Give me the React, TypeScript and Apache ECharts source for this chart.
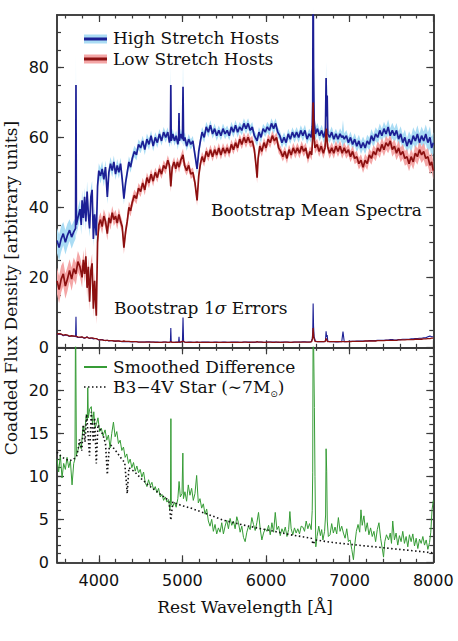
import React, { useEffect, useRef } from 'react';
import * as echarts from 'echarts';

// [wavelength, mean flux, bootstrap 1-sigma error]
const hiSpec: number[][] = [
  [3500,30.5,3.6],[3525,28.5,3.8],[3550,31,3.7],[3575,32.5,3.3],[3600,30,3.5],[3625,32,3.4],[3650,33.5,3.1],[3675,31.5,3.3],
  [3700,33,3.2],[3722,34,3.0],[3727,75,8.7],[3732,35,3.0],[3750,37,2.8],[3775,39.5,2.8],[3790,35,2.9],[3800,42,2.9],[3815,37,2.7],
  [3830,43,2.6],[3845,36,2.8],[3860,44.5,3.0],[3875,38,2.7],[3890,34,2.5],[3905,43,2.6],[3920,45,2.6],[3935,31,2.4],[3950,38,2.5],
  [3970,32,2.5],[3985,46,2.3],[4000,50.5,2.1],[4020,49,2.2],[4040,51,2.2],[4060,48,2.0],[4080,51.5,1.9],[4102,43,2.0],[4120,50,1.8],
  [4140,52.5,1.9],[4160,50.5,1.9],[4180,53,1.8],[4200,49.5,1.7],[4220,52,1.8],[4240,50,1.8],[4260,52.5,1.7],[4280,48,1.6],[4300,42.5,1.7],
  [4320,47,1.6],[4340,50,1.6],[4360,53,1.6],[4380,51.5,1.6],[4400,54,1.5],[4425,56,1.6],[4450,55,1.6],[4475,58,1.5],[4500,57,1.5],
  [4525,59,1.5],[4550,56.5,1.5],[4575,59.5,1.6],[4600,58,1.6],[4625,60.5,1.5],[4650,57.5,1.5],[4675,60,1.5],[4700,58.5,1.5],[4725,61,1.4],
  [4750,59,1.4],[4775,61.5,1.5],[4800,60,1.5],[4825,61.5,1.4],[4845,58.5,1.4],[4856,60,1.6],[4861,75,5.5],[4866,59,1.5],[4885,61,1.4],
  [4905,59,1.4],[4925,60.5,1.5],[4945,58,1.5],[4954,59.5,1.5],[4959,67,3.0],[4964,59,1.4],[4980,61,1.5],[5000,59.5,1.6],[5007,74.5,8.5],
  [5014,59,1.6],[5030,60,1.5],[5050,57.5,1.4],[5075,59.5,1.5],[5100,58,1.5],[5125,59,1.4],[5150,55,1.4],[5175,51,1.5],[5195,56,1.4],
  [5215,59,1.4],[5235,61.5,1.5],[5260,60,1.5],[5285,63,1.5],[5310,61.5,1.5],[5335,63.5,1.4],[5360,61,1.4],[5385,62.5,1.5],[5410,60.5,1.5],
  [5435,62,1.4],[5460,60.5,1.4],[5485,62.5,1.5],[5510,61,1.5],[5535,62,1.4],[5560,60.5,1.4],[5585,63,1.5],[5610,61.5,1.5],[5635,63.5,1.5],
  [5660,61.5,1.5],[5685,63,1.4],[5710,62,1.4],[5735,64,1.5],[5760,62.5,1.5],[5785,64,1.5],[5810,62,1.5],[5835,63,1.4],[5860,60.5,1.4],
  [5893,59,1.5],[5915,61.5,1.5],[5940,60,1.5],[5965,62.5,1.4],[5990,61.5,1.4],[6015,63,1.5],[6040,62,1.5],[6065,64,1.5],[6090,62.5,1.5],
  [6115,64,1.5],[6140,61.5,1.4],[6165,60.5,1.4],[6190,58.5,1.5],[6215,60,1.5],[6240,58.5,1.5],[6265,61,1.5],[6290,59.5,1.4],[6315,61.5,1.4],
  [6340,60,1.5],[6365,61.5,1.5],[6390,60,1.5],[6415,62,1.5],[6440,60.5,1.6],[6465,62,1.6],[6490,59.5,1.5],[6515,61,1.5],[6540,60,1.6],
  [6552,63,2.4],[6558,70,4.0],[6563,110,12.5],[6568,80,6.0],[6575,65,3.0],[6590,61,1.8],[6615,62.5,1.6],[6640,60.5,1.6],[6665,62,1.6],
  [6690,60,1.6],[6710,62,1.8],[6718,77,4.6],[6724,66,3.0],[6731,72,3.5],[6738,61,1.8],[6760,60,1.6],[6785,61.5,1.6],[6810,59.5,1.6],
  [6835,61,1.5],[6860,59.5,1.5],[6885,61,1.6],[6905,60,1.6],[6920,60.5,4.5],[6935,59.5,1.6],[6960,60.5,1.6],[6985,58.5,1.7],[7010,60,1.7],
  [7035,58,1.7],[7060,59.5,1.7],[7085,57.5,1.8],[7110,59,1.8],[7135,57,1.8],[7160,58.5,1.8],[7185,57,1.8],[7210,59,1.8],[7235,58,1.9],
  [7260,60.5,1.9],[7285,59,1.9],[7310,61,1.9],[7335,60,2.0],[7360,62,2.0],[7385,60.5,2.0],[7410,62.5,2.0],[7435,61,2.1],[7460,63,2.1],
  [7485,60.5,2.2],[7510,62,2.2],[7535,60.5,2.1],[7560,62,2.1],[7585,59.5,2.2],[7610,61,2.2],[7635,58.5,2.3],[7660,60,2.3],[7685,57.5,2.3],
  [7710,59.5,2.3],[7735,58,2.4],[7760,60.5,2.4],[7785,59,2.5],[7810,61,2.5],[7835,58.5,2.6],[7860,60.5,2.6],[7885,59,2.7],[7910,61,2.7],
  [7935,58.5,3.0],[7960,60,3.2],[7980,57,3.0],[8000,58.5,3.0],
];

const loSpec: number[][] = [
  [3500,19,3.8],[3525,16.5,3.9],[3550,19.5,3.8],[3575,21,3.5],[3600,17.5,3.6],[3625,19.5,3.5],[3650,22,3.2],[3675,19.5,3.3],
  [3700,22.5,3.2],[3725,21,3.2],[3750,24.5,3.0],[3775,23,2.9],[3800,20,3.0],[3815,25,2.8],[3830,21,2.7],[3845,26,2.8],[3860,17,2.9],
  [3875,23,2.7],[3890,13,2.6],[3905,22,2.7],[3920,24,2.7],[3935,11,2.6],[3950,19,2.5],[3970,9,2.5],[3985,30,2.3],[4000,35,2.2],
  [4020,36.5,2.1],[4040,34.5,2.1],[4060,37.5,2.0],[4080,36,2.0],[4102,32.5,2.0],[4120,37,1.9],[4140,35.5,1.9],[4160,38.5,1.9],
  [4180,36.5,1.8],[4200,37.5,1.8],[4220,35.5,1.8],[4240,38,1.8],[4260,36,1.7],[4280,34.5,1.7],[4300,28.5,1.8],[4320,33,1.7],
  [4340,36,1.7],[4360,40,1.7],[4380,39,1.6],[4400,41.5,1.6],[4425,43.5,1.6],[4450,42.5,1.6],[4475,45.5,1.5],[4500,44.5,1.5],
  [4525,47,1.5],[4550,45,1.5],[4575,48.5,1.5],[4600,47,1.5],[4625,49.5,1.5],[4650,47.5,1.5],[4675,50,1.4],[4700,48.5,1.4],
  [4725,51,1.4],[4750,49.5,1.4],[4775,52,1.5],[4800,51,1.5],[4825,53.5,1.4],[4845,52,1.4],[4861,46,1.6],[4878,51.5,1.4],
  [4900,53,1.4],[4920,51,1.4],[4940,53,1.4],[4960,51.5,1.5],[4980,53.5,1.5],[5007,55,1.8],[5025,52,1.5],[5050,50.5,1.4],
  [5075,52,1.4],[5100,49.5,1.4],[5125,50,1.4],[5150,47,1.4],[5175,42,1.5],[5195,49,1.4],[5215,52.5,1.4],[5235,54.5,1.4],
  [5260,53,1.4],[5285,56,1.4],[5310,54.5,1.4],[5335,56.5,1.4],[5360,54.5,1.4],[5385,56.5,1.4],[5410,55,1.4],[5435,57,1.4],
  [5460,55,1.4],[5485,57,1.4],[5510,55.5,1.4],[5535,57,1.4],[5560,55.5,1.4],[5585,58,1.4],[5610,56.5,1.4],[5635,58.5,1.4],
  [5660,57,1.4],[5685,59.5,1.4],[5710,58,1.4],[5735,60,1.5],[5760,58.5,1.5],[5785,60,1.4],[5810,58.5,1.4],[5835,59,1.5],
  [5860,56.5,1.5],[5880,52,1.5],[5893,48.5,1.6],[5905,54,1.5],[5925,57.5,1.5],[5950,56,1.5],[5975,58.5,1.4],[6000,57,1.4],
  [6025,59.5,1.5],[6050,58.5,1.5],[6075,60.5,1.4],[6100,59,1.4],[6125,60,1.5],[6150,57,1.5],[6175,56,1.4],[6200,54.5,1.4],
  [6225,56,1.5],[6250,54,1.5],[6275,56.5,1.4],[6300,55,1.4],[6325,57,1.5],[6350,55.5,1.5],[6375,57,1.5],[6400,55.5,1.5],
  [6425,57.5,1.5],[6450,56,1.5],[6475,57,1.5],[6500,54,1.5],[6525,56,1.5],[6545,55,1.6],[6556,59,2.5],[6563,70,5.5],
  [6570,62,3.0],[6585,57,1.7],[6610,58,1.6],[6635,56,1.6],[6660,57.5,1.6],[6685,55.5,1.6],[6705,57,1.6],[6720,62.5,2.5],
  [6735,57.5,1.6],[6760,55.5,1.6],[6785,57,1.6],[6810,55.5,1.6],[6835,57.5,1.6],[6860,56,1.6],[6885,57.5,1.6],[6910,55.5,1.6],
  [6935,57,1.6],[6960,55.5,1.6],[6985,56.5,1.6],[7010,54.5,1.6],[7035,56,1.7],[7060,54,1.7],[7085,54.5,1.7],[7110,52.5,1.7],
  [7135,53.5,1.7],[7160,51.5,1.7],[7185,53.5,1.8],[7210,52.5,1.8],[7235,55,1.8],[7260,54,1.8],[7285,56,1.8],[7310,55,1.8],
  [7335,57,1.9],[7360,56,1.9],[7385,58,1.9],[7410,56.5,1.9],[7435,58.5,2.0],[7460,57.5,2.0],[7485,59,2.0],[7510,56.5,2.0],
  [7535,57.5,2.0],[7560,55.5,2.0],[7585,57,2.1],[7610,55,2.1],[7635,56,2.1],[7660,54,2.1],[7685,54.5,2.2],[7710,52.5,2.2],
  [7735,54.5,2.2],[7760,53,2.2],[7785,55.5,2.3],[7810,54.5,2.3],[7835,56.5,2.3],[7860,55,2.3],[7885,56,2.4],[7910,54,2.4],
  [7935,54.5,2.5],[7960,52,2.5],[7980,53,2.6],[8000,50.5,2.6],
];

const greenDiff: number[][] = [
  [3500,12.0],[3520,10.5],[3540,12.5],[3560,9.8],[3580,11.5],[3600,10.8],[3620,12.2],[3640,11.0],[3660,11.8],[3680,9.0],[3700,11.5],
  [3715,12.0],[3722,30],[3727,30],[3732,12.5],[3750,13.0],[3770,13.8],[3790,13.2],[3810,15.8],[3830,15.0],[3850,17.2],[3862,16.5],
  [3868,20.3],[3875,16.8],[3890,17.8],[3910,18.1],[3925,16.0],[3940,17.5],[3955,15.6],[3975,16.2],[3990,16.8],[4010,15.2],[4030,15.6],
  [4050,14.7],[4075,15.4],[4095,14.2],[4115,14.8],[4135,13.3],[4155,15.0],[4175,16.3],[4195,14.6],[4215,15.2],[4235,13.8],[4255,14.2],
  [4275,13.0],[4295,13.4],[4315,12.2],[4335,12.6],[4355,11.5],[4375,12.0],[4395,11.0],[4415,11.6],[4435,10.6],[4455,11.2],[4475,10.4],
  [4495,10.8],[4515,9.9],[4535,10.5],[4555,9.3],[4575,8.8],[4595,9.6],[4615,8.9],[4635,9.3],[4655,8.4],[4675,8.8],[4695,8.1],
  [4715,8.6],[4735,7.6],[4755,7.9],[4775,7.2],[4795,7.6],[4815,7.0],[4835,7.3],[4850,6.1],[4857,7.0],[4862,16.7],[4867,6.8],
  [4885,6.5],[4905,7.0],[4925,6.4],[4945,7.4],[4960,9.4],[4975,7.6],[4995,8.0],[5005,12.7],[5012,7.4],[5030,8.2],[5050,7.1],
  [5070,9.0],[5090,7.8],[5110,8.6],[5130,7.2],[5150,8.0],[5170,10.1],[5190,6.9],[5210,7.4],[5230,6.3],[5250,6.8],[5270,5.6],
  [5290,6.2],[5310,4.8],[5330,4.2],[5350,5.0],[5370,3.6],[5390,4.4],[5410,3.3],[5430,4.0],[5450,3.5],[5470,4.6],[5490,3.3],
  [5510,4.2],[5530,4.9],[5550,3.9],[5570,5.1],[5590,4.3],[5610,4.8],[5630,3.9],[5650,5.3],[5670,4.6],[5690,3.5],[5710,4.2],
  [5730,2.9],[5750,2.4],[5770,3.5],[5790,4.2],[5810,3.8],[5830,5.2],[5850,4.4],[5870,3.7],[5890,4.6],[5910,5.8],[5930,3.9],
  [5950,2.6],[5970,3.4],[5990,3.9],[6010,3.6],[6030,4.3],[6050,3.2],[6070,4.6],[6090,3.5],[6110,5.8],[6130,3.8],[6150,4.2],
  [6170,3.1],[6190,3.9],[6210,3.4],[6230,4.1],[6250,3.0],[6270,3.8],[6285,5.9],[6300,3.9],[6320,3.2],[6340,4.0],[6360,3.4],
  [6380,3.9],[6400,3.3],[6420,4.2],[6440,4.1],[6460,3.6],[6480,4.8],[6500,3.9],[6520,4.5],[6540,3.8],[6552,6.0],[6558,10.4],
  [6563,30],[6570,30],[6578,18],[6585,10],[6595,1.8],[6610,3.0],[6630,4.2],[6650,3.1],[6665,3.8],[6680,2.6],[6700,3.6],
  [6712,5.5],[6718,13.2],[6725,10.6],[6732,4.8],[6745,3.0],[6765,3.2],[6785,4.5],[6805,3.4],[6825,4.1],[6845,3.3],[6865,5.2],
  [6885,3.6],[6905,4.2],[6925,3.4],[6945,2.8],[6965,3.9],[6985,2.4],[7005,2.6],[7025,1.5],[7045,0.3],[7060,2.0],[7080,3.6],
  [7100,4.4],[7120,3.5],[7135,6.1],[7150,4.3],[7170,5.4],[7190,3.6],[7210,4.6],[7230,3.2],[7250,4.0],[7270,3.0],[7290,3.6],
  [7310,2.4],[7330,3.8],[7350,4.6],[7370,2.8],[7390,1.6],[7405,0.6],[7420,2.4],[7440,3.2],[7465,2.6],[7485,3.4],[7500,2.2],
  [7515,4.8],[7535,2.6],[7555,3.4],[7575,2.0],[7595,3.1],[7615,2.4],[7635,3.6],[7655,2.2],[7675,3.0],[7695,1.8],[7715,3.2],
  [7735,2.4],[7755,3.3],[7775,1.9],[7795,2.8],[7815,1.6],[7835,2.7],[7855,2.2],[7875,3.0],[7895,2.0],[7915,2.6],[7935,1.5],
  [7955,2.3],[7970,3.5],[7985,6.1],[8000,7.2],
];

const starModel: number[][] = [
  [3500,12.8],[3550,12.3],[3600,12.0],[3650,11.8],[3700,12.0],[3734,12.3],[3750,13.0],[3770,14.3],[3797,13.0],[3815,16.0],
  [3835,14.0],[3855,17.2],[3889,12.4],[3910,17.5],[3935,14.0],[3950,16.8],[3970,11.5],[3990,16.0],[4020,15.4],[4050,14.8],
  [4080,13.8],[4102,10.2],[4125,13.4],[4150,13.6],[4215,12.8],[4275,12.0],[4310,11.6],[4340,8.0],[4360,11.0],[4430,10.5],
  [4510,9.7],[4590,9.0],[4670,8.4],[4750,7.8],[4810,7.4],[4840,7.0],[4861,4.9],[4885,7.0],[4990,6.6],[5100,6.3],[5300,5.6],
  [5490,4.9],[5700,4.4],[5890,4.0],[6100,3.6],[6290,3.2],[6450,2.95],[6540,2.8],[6563,2.1],[6590,2.6],[6800,2.3],[7090,2.0],
  [7300,1.8],[7490,1.6],[7750,1.35],[8000,1.1],
];

const xMajorTicks = [4000, 5000, 6000, 7000, 8000];
const xMinorTicks = [3600,3800,4000,4200,4400,4600,4800,5000,5200,5400,5600,5800,6000,6200,6400,6600,6800,7000,7200,7400,7600,7800];
const topMajorTicks = [0, 20, 40, 60, 80];
const topMinorTicks = [5,10,15,20,25,30,35,40,45,50,55,60,65,70,75,80,85,90];
const botMajorTicks = [0, 5, 10, 15, 20];
const botMinorTicks = [1,2,3,4,5,6,7,8,9,10,11,12,13,14,15,16,17,18,19,20,21,22,23,24];

const TOP_MAX = 95;
const BOT_MAX = 25;
const FRAME = '#3a3a3a';
const SERIF = '"DejaVu Serif", serif';
const SANS = '"DejaVu Sans", sans-serif';
const NAVY = '#1c1f95';
const LIGHTBLUE = '#aadcf4';
const DARKRED = '#8c1010';
const PINK = '#f4a6a6';
const GREEN = '#369c36';
const FS = 17;

const fmt = (v: number) => String(v);

function xAx(grid: number, pos: string, ticks: number[], len: number, labels: boolean) {
  return {
    type: 'value', gridIndex: grid, position: pos, min: 3500, max: 8000,
    axisLine: { show: true, onZero: false, lineStyle: { color: FRAME, width: 1.6 } },
    axisTick: { show: true, inside: true, length: len, customValues: ticks, lineStyle: { color: FRAME, width: 1.2 } },
    axisLabel: labels
      ? { show: true, customValues: xMajorTicks, formatter: fmt, fontFamily: SANS, fontSize: 16, color: '#111', margin: 10 }
      : { show: false },
    splitLine: { show: false },
  };
}

function yAx(grid: number, pos: string, max: number, ticks: number[], len: number, labels: number[] | null) {
  return {
    type: 'value', gridIndex: grid, position: pos, min: 0, max,
    axisLine: { show: true, onZero: false, lineStyle: { color: FRAME, width: 1.6 } },
    axisTick: { show: true, inside: true, length: len, customValues: ticks, lineStyle: { color: FRAME, width: 1.2 } },
    axisLabel: labels
      ? { show: true, customValues: labels, formatter: fmt, fontFamily: SANS, fontSize: 16, color: '#111', margin: 8 }
      : { show: false },
    splitLine: { show: false },
  };
}

// shaded +-1 sigma band drawn as one polygon through the axis scales
function band(spec: number[][], color: string) {
  return {
    type: 'custom', xAxisIndex: 0, yAxisIndex: 0, silent: true,
    data: [[spec[0][0], spec[0][1]]],
    renderItem: (_params: any, api: any) => {
      const up = spec.map((r) => api.coord([r[0], Math.min(r[1] + r[2], TOP_MAX)]));
      const dn = spec.map((r) => api.coord([r[0], Math.max(r[1] - r[2], 0)])).reverse();
      return { type: 'polygon', shape: { points: up.concat(dn) }, style: { fill: color, stroke: 'none' } };
    },
  };
}

export default function App() {
  const ref = useRef<HTMLDivElement>(null);
  useEffect(() => {
    if (!ref.current) return;
    const chart = echarts.init(ref.current, null, { renderer: 'svg' });
    const L = 57, W = 376.3;
    const text = (t: string, x: number, y: number, extra: any = {}) => ({
      type: 'text', x, y, z: 10,
      style: { text: t, font: `${FS}px ${SERIF}`, fill: '#111', textVerticalAlign: 'middle', ...extra },
    });
    const option: any = {
      animation: false,
      backgroundColor: '#fff',
      grid: [
        { left: L, top: 15, width: W, height: 332.3 },
        { left: L, top: 347.3, width: W, height: 215 },
      ],
      xAxis: [
        xAx(0, 'bottom', xMajorTicks, 7, false),
        xAx(0, 'bottom', xMinorTicks, 3.5, false),
        xAx(0, 'top', xMajorTicks, 7, false),
        xAx(0, 'top', xMinorTicks, 3.5, false),
        xAx(1, 'bottom', xMajorTicks, 7, true),
        xAx(1, 'bottom', xMinorTicks, 3.5, false),
        xAx(1, 'top', xMajorTicks, 7, false),
        xAx(1, 'top', xMinorTicks, 3.5, false),
      ],
      yAxis: [
        yAx(0, 'left', TOP_MAX, topMajorTicks, 7, topMajorTicks),
        yAx(0, 'left', TOP_MAX, topMinorTicks, 4, null),
        yAx(0, 'right', TOP_MAX, topMajorTicks, 7, null),
        yAx(0, 'right', TOP_MAX, topMinorTicks, 4, null),
        yAx(1, 'left', BOT_MAX, botMajorTicks, 7, botMajorTicks),
        yAx(1, 'left', BOT_MAX, botMinorTicks, 4, null),
        yAx(1, 'right', BOT_MAX, botMajorTicks, 7, null),
        yAx(1, 'right', BOT_MAX, botMinorTicks, 4, null),
      ],
      series: [
        band(hiSpec, LIGHTBLUE),
        {
          type: 'line', xAxisIndex: 0, yAxisIndex: 0, symbol: 'none', silent: true,
          lineStyle: { color: NAVY, width: 1.7 },
          data: hiSpec.map((r) => [r[0], r[1]]),
        },
        band(loSpec, PINK),
        {
          type: 'line', xAxisIndex: 0, yAxisIndex: 0, symbol: 'none', silent: true,
          lineStyle: { color: DARKRED, width: 1.7 },
          data: loSpec.map((r) => [r[0], r[1]]),
        },
        {
          type: 'line', xAxisIndex: 0, yAxisIndex: 0, symbol: 'none', silent: true,
          lineStyle: { color: NAVY, width: 1.1 },
          data: hiSpec.map((r) => [r[0], r[2]]),
        },
        {
          type: 'line', xAxisIndex: 0, yAxisIndex: 0, symbol: 'none', silent: true,
          lineStyle: { color: DARKRED, width: 1.3 },
          data: loSpec.map((r) => [r[0], r[2]]),
        },
        {
          type: 'line', xAxisIndex: 4, yAxisIndex: 4, symbol: 'none', silent: true,
          lineStyle: { color: GREEN, width: 1 },
          data: greenDiff,
        },
        {
          type: 'line', xAxisIndex: 4, yAxisIndex: 4, symbol: 'none', silent: true,
          lineStyle: { color: '#111', width: 1.6, type: [1.5, 2.5] },
          data: starModel,
        },
      ],
      graphic: [
        // top legend
        { type: 'rect', shape: { x: 84, y: 34.5, width: 23, height: 9 }, style: { fill: LIGHTBLUE } },
        { type: 'line', shape: { x1: 84, y1: 39, x2: 107, y2: 39 }, style: { stroke: NAVY, lineWidth: 3 } },
        text('High Stretch Hosts', 113, 38),
        { type: 'rect', shape: { x: 84, y: 54.5, width: 23, height: 9 }, style: { fill: PINK } },
        { type: 'line', shape: { x1: 84, y1: 59, x2: 107, y2: 59 }, style: { stroke: DARKRED, lineWidth: 3 } },
        text('Low Stretch Hosts', 113, 59),
        // annotations
        text('Bootstrap Mean Spectra', 422, 210, { textAlign: 'right' }),
        text('Bootstrap 1{i|σ} Errors', 114, 308, {
          rich: { i: { fontStyle: 'italic', fontFamily: SERIF, fontSize: FS, fill: '#111' } },
        }),
        // bottom legend
        { type: 'line', shape: { x1: 84, y1: 367, x2: 107, y2: 367 }, style: { stroke: GREEN, lineWidth: 2 } },
        text('Smoothed Difference', 113, 367),
        { type: 'line', shape: { x1: 84, y1: 387, x2: 107, y2: 387 }, style: { stroke: '#111', lineWidth: 1.6, lineDash: [1.5, 2.5] } },
        {
          type: 'text', x: 113, y: 387, z: 10,
          style: {
            text: '{n|B3−4V Star (∼7M}{s|⊙}{n|)}', fill: '#111', textVerticalAlign: 'middle',
            rich: {
              n: { fontFamily: SERIF, fontSize: FS, lineHeight: 22, verticalAlign: 'middle', fill: '#111' },
              s: { fontFamily: SANS, fontSize: 9, lineHeight: 9, verticalAlign: 'bottom', fill: '#111' },
            },
          },
        },
        // axis titles
        {
          type: 'text', x: 11, y: 288, rotation: Math.PI / 2,
          style: { text: 'Coadded Flux Density [arbitrary units]', font: `${FS}px ${SERIF}`, fill: '#111', textAlign: 'center', textVerticalAlign: 'middle' },
        },
        text('Rest Wavelength [Å]', 245, 607, { textAlign: 'center' }),
      ],
    };
    chart.setOption(option);
    return () => chart.dispose();
  }, []);
  return <div ref={ref} style={{ position: 'absolute', left: 0, top: 0, width: 458, height: 641 }} />;
}
